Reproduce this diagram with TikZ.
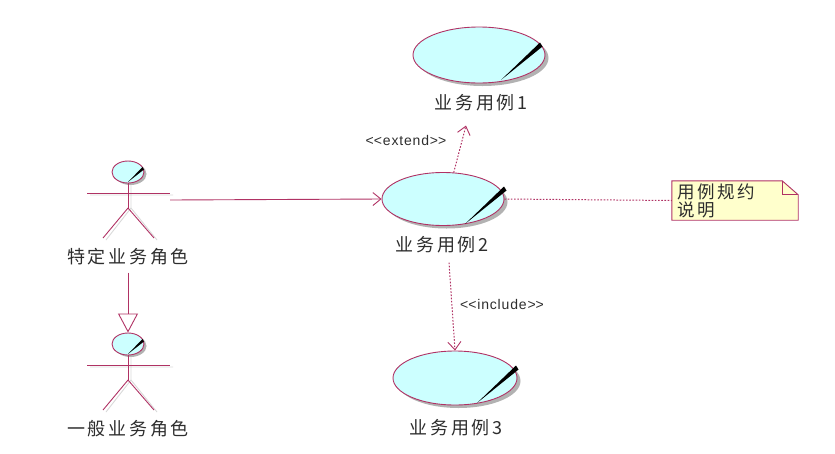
\documentclass[tikz,border=0pt]{standalone}
\usepackage{fontspec}
\setmainfont{Liberation Sans}
\newfontfamily\cjk[LetterSpace=15]{Noto Sans CJK SC}
\newfontfamily\stfont[LetterSpace=6]{Liberation Sans}
\usetikzlibrary{shapes.geometric,arrows.meta,shadows,calc,backgrounds}
\definecolor{lc}{RGB}{176,50,100}
\definecolor{ucfill}{RGB}{204,255,255}
\definecolor{notefill}{RGB}{255,255,204}
\definecolor{txt}{RGB}{45,45,45}
\tikzset{
  uc/.style={ellipse, draw=lc, fill=ucfill, line width=0.9pt, inner sep=0pt,
    minimum width=124pt, minimum height=54pt,
    drop shadow={shadow xshift=3.5pt, shadow yshift=-3pt, fill=black!30, opacity=1}},
  ahead/.style={ellipse, draw=lc, fill=ucfill, line width=0.9pt, inner sep=0pt,
    minimum width=32pt, minimum height=22pt,
    drop shadow={shadow xshift=2.5pt, shadow yshift=-2pt, fill=black!30, opacity=1}},
  lbl/.style={font=\cjk\fontsize{18}{18}\selectfont, text=txt, inner sep=1pt},
  st/.style={font=\stfont\fontsize{14}{15}\selectfont, text=txt, inner sep=1pt},
  rel/.style={draw=lc, line width=0.9pt},
  dots/.style={draw=lc, line width=1pt, dash pattern=on 1.6pt off 1.6pt},
  barb/.style={-{Straight Barb[length=8pt,width=13pt,line width=0.9pt]}},
  limb/.style={draw=lc, line width=0.9pt},
  limbsh/.style={draw=black!15, line width=0.9pt},
}
\newcommand{\ucmark}[1]{%
  \begin{scope}[shift={(#1.center)}]
    \fill[black] (63.5,-8.5) -- (61,-12.5) -- (22,25) -- cycle;
  \end{scope}}
\newcommand{\headmark}[1]{%
  \begin{scope}[shift={(#1.center)}]
    \fill[black] (16,-2.5) -- (14.5,-5) -- (0,10) -- cycle;
  \end{scope}}
\newcommand{\actor}[4]{% name, x, y(head), label
  \draw[limbsh] (#2+3,#3+12) -- (#2+3,#3+36) (#2-38,#3+23) -- (#2+45,#3+23)
    (#2+3,#3+36) -- (#2-22,#3+68) (#2+3,#3+36) -- (#2+29,#3+68);
  \node[ahead] (#1h) at (#2,#3) {};
  \headmark{#1h}
  \draw[limb] (#1h.south) -- (#2,#3+36);
  \draw[limb] (#2-41,#3+21) -- (#2+42,#3+21);
  \draw[limb] (#2,#3+36) -- (#2-25,#3+66) (#2,#3+36) -- (#2+26,#3+66);
  \node[inner sep=0pt, minimum width=84pt, minimum height=80pt] (#1) at (#2,#3+28) {};
  \node[lbl] (#1l) at (#2,#3+85) {#4};
}
\begin{document}
\begin{tikzpicture}[x=1pt,y=-1pt]
\useasboundingbox (0,0) rectangle (835,453);

% use cases
\node[uc, minimum width=132pt, minimum height=56pt] (u1) at (479,55) {};
\ucmark{u1}
\node[lbl] (l1) at (481,103) {业务用例1};

\node[uc, minimum width=122pt, minimum height=53pt] (u2) at (443,199) {};
\ucmark{u2}
\node[lbl] (l2) at (442,245) {业务用例2};

\node[uc] (u3) at (455,378) {};
\ucmark{u3}
\node[lbl] (l3) at (456,428) {业务用例3};

% actors
\actor{a1}{128}{172}{特定业务角色}
\actor{a2}{128}{344}{一般业务角色}

% note
\node[font=\cjk\fontsize{17.5}{18}\selectfont, text=txt, align=left,
      text width=116pt, inner xsep=5pt, inner ysep=0pt,
      minimum width=126pt, minimum height=39pt] (note) at (735,200.5)
      {用例规约\\说明};
\begin{scope}[on background layer]
  \filldraw[draw=lc, fill=notefill, line width=0.9pt]
    (note.north west) -- ($(note.north east)+(-16,0)$) -- ($(note.north east)+(0,14)$)
    -- (note.south east) -- (note.south west) -- cycle;
  \draw[lc, line width=0.9pt] ($(note.north east)+(-16,0)$) -- ($(note.north east)+(-16,14)$)
    -- ($(note.north east)+(0,14)$);
\end{scope}

% connectors
\draw[rel, barb] (a1.east) -- (u2.west);
\draw[rel, -{Triangle[open, length=19pt, width=20pt, line width=0.9pt]}, shorten <=6pt]
  (a1l.south) -- (a2h.north);
\draw[dots, barb] (u2.68) -- ($(l1.south)+(-15,13)$);
\node[st] (ext) at (406,140) {<\kern0pt<extend>\kern0pt>};
\draw[dots, barb] ($(l2.south)+(7,8)$) -- (u3.north);
\node[st] (inc) at (502,304) {<\kern0pt<include>\kern0pt>};
\draw[dots] (u2.east) -- (note.west);
\end{tikzpicture}
\end{document}
